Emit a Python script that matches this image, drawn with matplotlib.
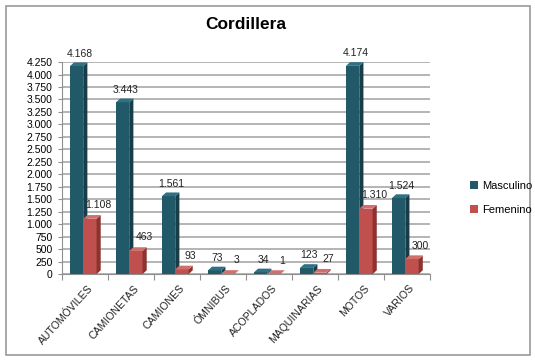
import matplotlib.pyplot as plt
from matplotlib.patches import Polygon, Rectangle
import numpy as np

categories = ["AUTOMÓVILES", "CAMIONETAS", "CAMIONES", "ÓMNIBUS",
              "ACOPLADOS", "MAQUINARIAS", "MOTOS", "VARIOS"]
masculino = [4168, 3443, 1561, 73, 34, 123, 4174, 1524]
femenino = [1108, 463, 93, 3, 1, 27, 1310, 300]
y_ticks = list(range(0, 4251, 250))
y_tick_labels = ["{:,}".format(t).replace(",", ".") for t in y_ticks]

plt.rcParams['font.family'] = ['Liberation Sans', 'DejaVu Sans']

# colours: front, side, top
masc_cols = ("#215968", "#163d48", "#2f7184")
fem_cols = ("#c0504d", "#8c3330", "#d0706d")


def bar3d(ax, x0, w, v, cols, dx=0.09, dy=75):
    # front face
    ax.add_patch(Rectangle((x0, 0), w, v, facecolor=cols[0], edgecolor='none', zorder=3))
    # right side
    ax.add_patch(Polygon([(x0 + w, 0), (x0 + w + dx, dy), (x0 + w + dx, v + dy), (x0 + w, v)],
                         closed=True, facecolor=cols[1], edgecolor='none', zorder=3))
    # top
    ax.add_patch(Polygon([(x0, v), (x0 + w, v), (x0 + w + dx, v + dy), (x0 + dx, v + dy)],
                         closed=True, facecolor=cols[2], edgecolor='none', zorder=3))


def fmt(v):
    return "{:,}".format(v).replace(",", ".")


fig = plt.figure(figsize=(5.35, 3.63), dpi=100)
fig.patches.append(Rectangle((0.011, 0.022), 0.98, 0.962, transform=fig.transFigure,
                             fill=False, edgecolor="#9a9a9a", lw=1.2))

ax = fig.add_axes([0.116, 0.245, 0.688, 0.584])
ax.set_xlim(0, 8)
ax.set_ylim(0, 4250)
ax.set_yticks(y_ticks)
ax.set_yticklabels(y_tick_labels, fontsize=7.5)
ax.yaxis.grid(True, color="#a8a8a8", lw=1.2, zorder=0)
ax.set_axisbelow(True)
ax.set_xticks(np.arange(0, 9))
ax.set_xticklabels([])
ax.tick_params(axis='x', length=4, color="#909090")
ax.tick_params(axis='y', length=3, color="#909090", pad=4)
for s in ["top", "right"]:
    ax.spines[s].set_visible(False)
for s in ["left", "bottom"]:
    ax.spines[s].set_color("#909090")

w = 0.29
for i, (m, f) in enumerate(zip(masculino, femenino)):
    xm = i + 0.17
    xf = xm + w
    bar3d(ax, xm, w, m, masc_cols)
    bar3d(ax, xf, w, f, fem_cols)
    ax.text(xm + w / 2 + 0.06, m + 150, fmt(m), ha='center', va='bottom',
            fontsize=7.5, color="#222222", clip_on=False, zorder=5)
    ax.text(xf + w / 2 + 0.18, f + 170, fmt(f), ha='center', va='bottom',
            fontsize=7.5, color="#222222", clip_on=False, zorder=5)
    ax.text(i + 0.55, -180, categories[i], ha='right', va='top', rotation=48,
            rotation_mode='anchor', fontsize=7.6, color="#222222")

ax.set_title("Cordillera", fontsize=12.5, fontweight='bold', pad=24)

handles = [Rectangle((0, 0), 1, 1, facecolor=masc_cols[0]),
           Rectangle((0, 0), 1, 1, facecolor=fem_cols[0])]
fig.legend(handles, ["Masculino", "Femenino"], loc='center left',
           bbox_to_anchor=(0.86, 0.455), frameon=False, fontsize=8,
           handlelength=0.7, handleheight=0.7, handletextpad=0.4, labelspacing=1.2)

fig.savefig("out.png", dpi=100)
